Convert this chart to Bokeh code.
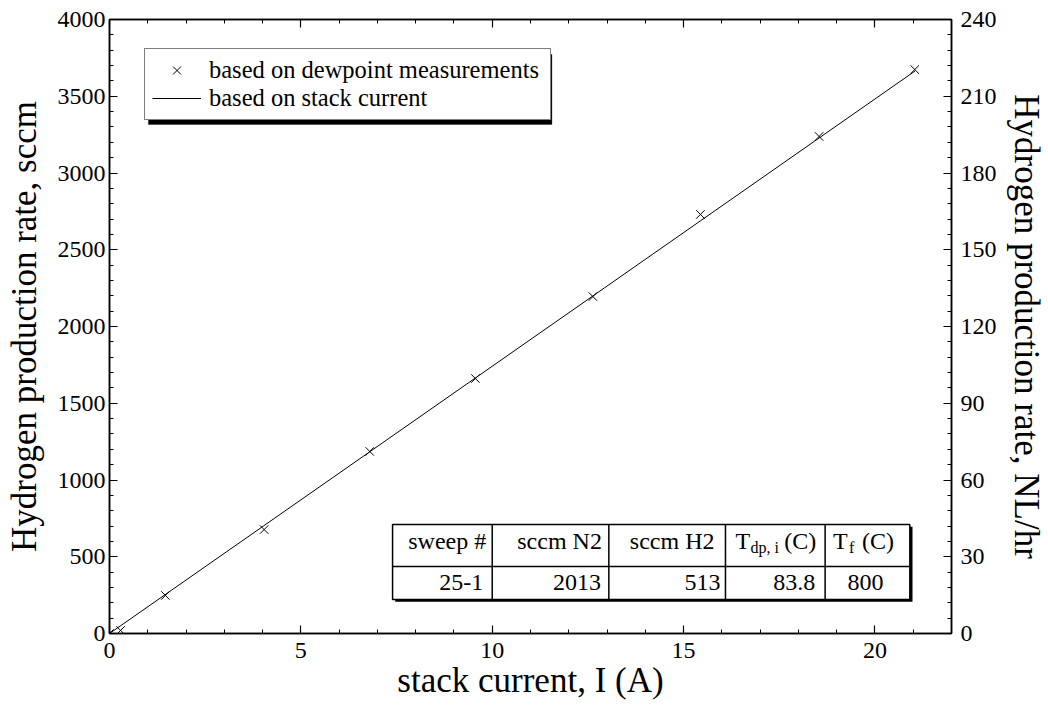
from bokeh.plotting import figure
from bokeh.models import (Range1d, LinearAxis, SingleIntervalTicker, Legend, LegendItem,
                          BoxAnnotation, ColumnDataSource, CustomJSTickFormatter)
from bokeh.embed import file_html
from bokeh.resources import INLINE
from bokeh.core.properties import value

# ---------------- data ----------------
current_meas = [0.0, 0.29, 1.46, 4.04, 6.80, 9.56, 12.63, 15.44, 18.54, 21.04]
rate_meas = [0, 20, 248, 677, 1186, 1661, 2195, 2730, 3238, 3674]
line_current = [0.0, 21.05]
line_rate = [0, 3665]

table_headers = ["sweep #", "sccm N2", "sccm H2"]
table_values = ["25-1", "2013", "513", "83.8", "800"]

legend_labels = ["based on dewpoint measurements", "based on stack current"]

FONT = "Liberation Serif"

# ---------------- figure ----------------
p = figure(width=1048, height=707, output_backend="svg", toolbar_location=None,
           x_range=Range1d(0, 22), y_range=Range1d(0, 4000),
           min_border_left=109, min_border_right=95, min_border_top=19, min_border_bottom=74,
           x_axis_label="stack current, I (A)",
           y_axis_label="Hydrogen production rate, sccm")
p.extra_y_ranges = {"nl": Range1d(0, 240)}
p.xgrid.visible = False
p.ygrid.visible = False
p.outline_line_color = "black"
p.outline_line_width = 1.5
p.background_fill_color = "white"
p.border_fill_color = "white"

bottom = p.below[0]
left = p.left[0]
bottom.ticker = SingleIntervalTicker(interval=5, num_minor_ticks=5)
left.ticker = SingleIntervalTicker(interval=500, num_minor_ticks=5)

right = LinearAxis(y_range_name="nl", axis_label="Hydrogen production rate, NL/hr",
                   ticker=SingleIntervalTicker(interval=30, num_minor_ticks=5))
p.add_layout(right, "right")
top = LinearAxis(ticker=SingleIntervalTicker(interval=5, num_minor_ticks=5),
                 formatter=CustomJSTickFormatter(code="return ''"))
p.add_layout(top, "above")


def style_axis(ax):
    ax.major_tick_in = 8
    ax.major_tick_out = 0
    ax.minor_tick_in = 4
    ax.minor_tick_out = 0
    ax.axis_line_width = 1.5
    ax.axis_line_color = "black"
    ax.major_tick_line_color = "black"
    ax.minor_tick_line_color = "black"
    ax.major_tick_line_width = 1.2
    ax.minor_tick_line_width = 1.0
    ax.major_label_text_font = FONT
    ax.major_label_text_font_size = "24px"
    ax.major_label_text_color = "black"
    ax.axis_label_text_font = FONT
    ax.axis_label_text_font_style = "normal"
    ax.axis_label_text_font_size = "35px"
    ax.axis_label_text_color = "black"


for ax in [bottom, left, right, top]:
    style_axis(ax)
top.major_label_standoff = 0
left.major_label_standoff = 4
left.axis_label_standoff = 11
right.major_label_standoff = 9
right.axis_label_standoff = 7
bottom.major_label_standoff = 9
bottom.axis_label_standoff = 0

# ---------------- series ----------------
src_meas = ColumnDataSource(dict(x=current_meas, y=rate_meas))
src_line = ColumnDataSource(dict(x=line_current, y=line_rate))
ln = p.line("x", "y", source=src_line, line_color="black", line_width=1)
sc = p.scatter("x", "y", source=src_meas, marker="x", size=12, line_color="black", line_width=1)

# ---------------- legend with shadow ----------------
shadow = BoxAnnotation(left=1.016, right=11.56, top=3772, bottom=3316,
                       fill_color="black", fill_alpha=1, line_color="black")
p.add_layout(shadow)

legend = Legend(items=[LegendItem(label=legend_labels[0], renderers=[sc]),
                       LegendItem(label=legend_labels[1], renderers=[ln])],
                location=(35, 513), orientation="vertical",
                label_text_font=FONT, label_text_font_size="24.5px", label_text_color="black",
                glyph_width=49, glyph_height=28, label_height=28, label_width=334, spacing=0,
                padding=7, margin=0, label_standoff=8,
                border_line_color="black", border_line_width=1.5,
                background_fill_color="white", background_fill_alpha=1)
p.add_layout(legend, "center")

# ---------------- table ----------------
col_edges = [7.396, 10.0, 13.047, 16.094, 18.698, 20.911]
row_edges = [710.1, 436.5, 221.5]

# shadow of table
p.quad(left=col_edges[0] + 0.07, right=col_edges[-1] + 0.07,
       top=row_edges[0] - 15, bottom=row_edges[-1] - 15,
       fill_color="black", line_color=None)
p.quad(left=col_edges[0], right=col_edges[-1], top=row_edges[0], bottom=row_edges[-1],
       fill_color="white", line_color="black", line_width=1.5)
p.segment(x0=col_edges[1:-1], x1=col_edges[1:-1],
          y0=[row_edges[0]] * 4, y1=[row_edges[-1]] * 4,
          line_color="black", line_width=1.5)
p.segment(x0=[col_edges[0]], x1=[col_edges[-1]], y0=[row_edges[1]], y1=[row_edges[1]],
          line_color="black", line_width=1.5)

hdr_y = 600
sub_y = 561
data_y = 333
tf = value(FONT)
p.text(x=[9.844, 12.865, 15.807], y=[hdr_y] * 3, text=table_headers,
       text_font=tf, text_font_size="24px", text_align="right",
       text_baseline="alphabetic", text_color="black")
# T_dp,i (C) and T_f (C)
p.text(x=[16.354, 17.63, 18.906, 19.66], y=[hdr_y] * 4, text=["T", "(C)", "T", "(C)"],
       text_font=tf, text_font_size="24px", text_align="left",
       text_baseline="alphabetic", text_color="black")
p.text(x=[16.745, 19.323], y=[sub_y] * 2, text=["dp, i", "f"],
       text_font=tf, text_font_size="16px", text_align="left",
       text_baseline="alphabetic", text_color="black")
p.text(x=[9.766, 12.839, 15.964, 18.438], y=[data_y] * 4, text=table_values[:4],
       text_font=tf, text_font_size="24px", text_align="right",
       text_baseline="alphabetic", text_color="black")
p.text(x=[19.75], y=[data_y], text=table_values[4:],
       text_font=tf, text_font_size="24px", text_align="center",
       text_baseline="alphabetic", text_color="black")

open("out.html", "w").write(file_html(p, INLINE))
